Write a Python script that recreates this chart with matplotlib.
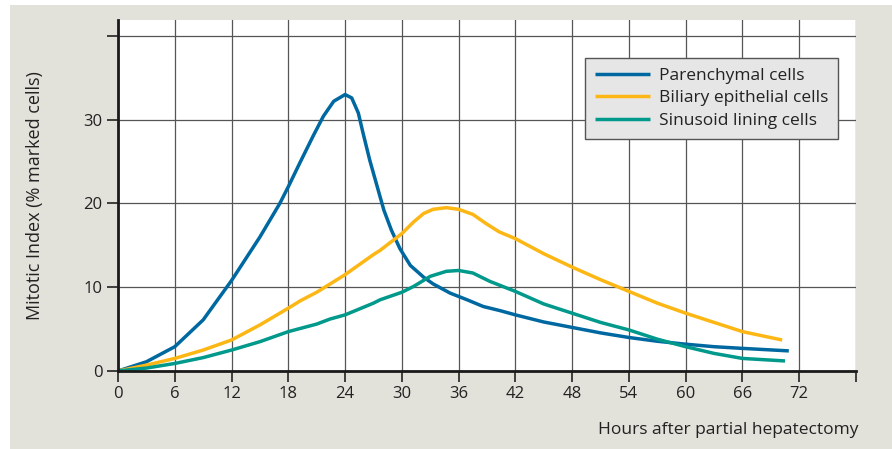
import matplotlib
matplotlib.use('agg')
import matplotlib.pyplot as plt
from matplotlib.patches import Rectangle

# values (hours, mitotic index %)
par_h = [0, 3, 6, 9, 12, 15, 17.1, 18, 19.2, 20.6, 21.7, 22.8, 24, 24.7, 25.4, 25.9,
         26.6, 27.4, 28.1, 28.9, 29.8, 30.9, 32.3, 33.3, 35.1, 36.9, 38.6, 40.4, 42,
         45, 48, 51, 54, 57, 60, 63, 66, 70.9]
par_v = [0, 1.1, 2.9, 6.1, 10.8, 16.0, 20.0, 22.0, 24.8, 28.0, 30.4, 32.2, 33.0, 32.6,
         30.8, 28.4, 25.2, 22.0, 19.2, 16.8, 14.6, 12.6, 11.2, 10.4, 9.3, 8.5, 7.7, 7.2,
         6.7, 5.85, 5.2, 4.55, 4.0, 3.55, 3.2, 2.9, 2.7, 2.4]

bil_h = [0, 3, 6, 9, 12, 15, 18, 19.3, 21, 24, 27, 27.7, 30, 31.25, 32.3, 33.3, 34.7,
         36, 37.5, 38.9, 40.3, 42, 45, 48, 51, 54, 57, 60, 63, 66, 70.2]
bil_v = [0, 0.7, 1.5, 2.5, 3.7, 5.5, 7.5, 8.4, 9.4, 11.5, 13.9, 14.4, 16.4, 17.8, 18.8,
         19.3, 19.5, 19.3, 18.7, 17.6, 16.6, 15.8, 14.0, 12.4, 10.9, 9.5, 8.1, 6.9, 5.8,
         4.7, 3.7]

sin_h = [0, 3, 6, 9, 12, 15, 18, 21, 22.4, 24, 27, 27.7, 30, 31.25, 33, 34.7, 36, 37.5,
         39.3, 42, 45, 48, 51, 54, 57, 60, 63, 66, 70.5]
sin_v = [0, 0.35, 0.9, 1.6, 2.5, 3.5, 4.7, 5.6, 6.2, 6.7, 8.1, 8.5, 9.4, 10.1, 11.3,
         11.9, 12.0, 11.7, 10.7, 9.5, 8.0, 6.9, 5.8, 4.9, 3.8, 2.9, 2.1, 1.5, 1.2]

x_ticks = list(range(0, 79, 6))
y_ticks = [0, 10, 20, 30, 40]

plt.rcParams['font.family'] = ['Open Sans', 'DejaVu Sans']

fig = plt.figure(figsize=(8.92, 4.49), dpi=100)
fig.patch.set_facecolor('white')
fig.patches.append(Rectangle((10 / 892, 0), 1, 1 - 5 / 449, transform=fig.transFigure,
                             facecolor='#e2e1da', edgecolor='none', zorder=-10))

ax = fig.add_axes([118 / 892, 1 - 371 / 449, 738 / 892, 351 / 449])
ax.set_facecolor('white')

kw = dict(lw=2.5, solid_capstyle='butt', solid_joinstyle='round', zorder=3)
ax.plot(par_h, par_v, color='#0068a0', label='Parenchymal cells', **kw)
ax.plot(bil_h, bil_v, color='#fdb714', label='Biliary epithelial cells', **kw)
ax.plot(sin_h, sin_v, color='#00998b', label='Sinusoid lining cells', **kw)

ax.set_xlim(0, 78)
ax.set_ylim(0, 41.9)
ax.set_xticks(x_ticks)
ax.set_xticklabels([str(t) if t < 78 else '' for t in x_ticks], fontsize=12)
ax.set_yticks(y_ticks)
ax.set_yticklabels([str(t) if t < 40 else '' for t in y_ticks], fontsize=12)
ax.tick_params(direction='out', length=8, width=1.2, color='#222222', labelcolor='#222222', pad=3)

ax.grid(True, color='#555555', lw=0.9, zorder=1)
ax.set_axisbelow(True)
for side in ['top', 'right']:
    ax.spines[side].set_visible(False)
for side in ['left', 'bottom']:
    ax.spines[side].set_linewidth(2)
    ax.spines[side].set_color('#1a1a1a')
    ax.spines[side].set_zorder(4)

fig.text(35 / 892, 1 - 196 / 449, 'Mitotic Index (% marked cells)', rotation=90,
         ha='center', va='center', fontsize=13, color='#222222')
fig.text(858 / 892, 1 - 430 / 449, 'Hours after partial hepatectomy', ha='right', va='center',
         fontsize=12.5, color='#222222')

leg = ax.legend(loc='upper right', bbox_to_anchor=((838 - 118) / 738, (371 - 58) / 351),
                fancybox=False, frameon=True, fontsize=12.5, handlelength=3.2,
                borderpad=0.55, labelspacing=0.38, handletextpad=0.5, borderaxespad=0)
leg.get_frame().set_facecolor('#e6e6e6')
leg.get_frame().set_edgecolor('#555555')
leg.get_frame().set_linewidth(1)
leg.get_frame().set_alpha(1)
for t in leg.get_texts():
    t.set_color('#222222')

fig.savefig('out.png', dpi=100)
